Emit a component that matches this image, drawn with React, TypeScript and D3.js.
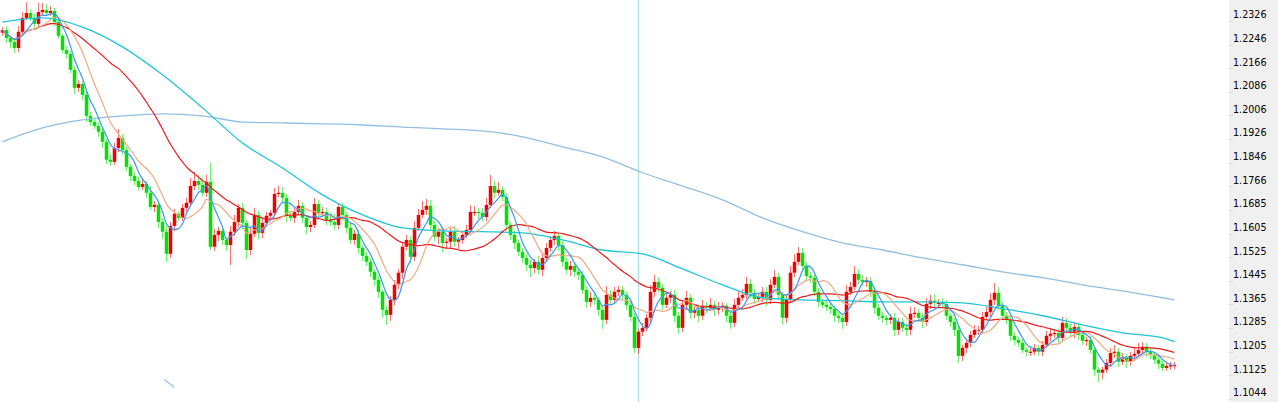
import { useEffect, useRef } from "react";
import * as d3 from "d3";

// daily closes, open of each bar = previous close
const firstOpen = 1.2266;
const closes = [
  1.2275, 1.2248, 1.2235, 1.2214, 1.2269, 1.2316, 1.2333, 1.2316, 1.2296, 1.2336,
  1.2343, 1.2333, 1.234, 1.2302, 1.2255, 1.2207, 1.2194, 1.214, 1.2079, 1.2092,
  1.2055, 1.1984, 1.1963, 1.195, 1.193, 1.1896, 1.1835, 1.1828, 1.1875, 1.1909,
  1.1868, 1.1811, 1.178, 1.1763, 1.1743, 1.1753, 1.1723, 1.1675, 1.1682, 1.1624,
  1.1591, 1.1516, 1.1611, 1.1652, 1.1638, 1.1672, 1.1689, 1.1746, 1.1763, 1.175,
  1.1723, 1.176, 1.154, 1.158, 1.1594, 1.1563, 1.1546, 1.1591, 1.1624, 1.1672,
  1.1621, 1.1529, 1.1584, 1.1648, 1.1587, 1.1621, 1.1645, 1.1655, 1.1719, 1.1723,
  1.1706, 1.1645, 1.1638, 1.1658, 1.1679, 1.1638, 1.1607, 1.1614, 1.1685, 1.1655,
  1.1658, 1.1631, 1.1624, 1.1614, 1.1675, 1.1648, 1.1604, 1.1563, 1.1584, 1.1536,
  1.1509, 1.1489, 1.1455, 1.1428, 1.1387, 1.1326, 1.1309, 1.136, 1.1411, 1.1452,
  1.154, 1.1563, 1.1506, 1.1604, 1.1648, 1.1665, 1.1679, 1.1614, 1.1574, 1.1591,
  1.1553, 1.1557, 1.1591, 1.1557, 1.1563, 1.158, 1.1597, 1.1658, 1.1658, 1.1655,
  1.1641, 1.1682, 1.1746, 1.1723, 1.1733, 1.1709, 1.1614, 1.158, 1.1553, 1.1523,
  1.1502, 1.1479, 1.1468, 1.1489, 1.1462, 1.1502, 1.1536, 1.1563, 1.1577, 1.1546,
  1.1489, 1.1462, 1.1475, 1.1455, 1.1445, 1.1394, 1.1353, 1.1367, 1.136, 1.1326,
  1.1292, 1.1377, 1.136, 1.1387, 1.1394, 1.1377, 1.1343, 1.1302, 1.1197, 1.1252,
  1.1265, 1.1299, 1.1387, 1.1421, 1.1401, 1.1343, 1.1367, 1.1377, 1.1306, 1.1265,
  1.1343, 1.1367, 1.1316, 1.1326, 1.1306, 1.134, 1.1333, 1.1343, 1.1326, 1.1336,
  1.134, 1.1306, 1.1282, 1.1343, 1.1367, 1.1377, 1.1414, 1.1384, 1.1363, 1.137,
  1.1387, 1.136, 1.1411, 1.1438, 1.1377, 1.1299, 1.136, 1.1452, 1.1489, 1.1519,
  1.1475, 1.1441, 1.1435, 1.1387, 1.1353, 1.1343, 1.1336, 1.1329, 1.1306, 1.1299,
  1.1285, 1.1387, 1.1404, 1.1448, 1.1428, 1.1421, 1.1424, 1.1387, 1.1333, 1.1306,
  1.1299, 1.1292, 1.1299, 1.1258, 1.1285, 1.1265, 1.1258, 1.1313, 1.1316, 1.1299,
  1.1285, 1.1346, 1.1357, 1.135, 1.135, 1.1346, 1.1306, 1.1285, 1.1258, 1.117,
  1.1197, 1.1214, 1.1241, 1.1258, 1.1258, 1.1302, 1.1319, 1.136, 1.1384, 1.134,
  1.1306, 1.1292, 1.1238, 1.1224, 1.1214, 1.119, 1.1184, 1.1184, 1.1197, 1.1184,
  1.1207, 1.1238, 1.1245, 1.1248, 1.1231, 1.1282, 1.1265, 1.1252, 1.1268, 1.1241,
  1.1221, 1.1224, 1.119, 1.1123, 1.1113, 1.1123, 1.1146, 1.118, 1.1184, 1.115,
  1.1163, 1.115, 1.117, 1.1177, 1.119, 1.1201, 1.1184, 1.1174, 1.1157, 1.1143,
  1.1129, 1.1136, 1.1138, 1.1139,
];

// shadow lengths in pips above / below the body
const wickUp = [
  10, 14, 8, 12, 18, 20, 37, 15, 12, 30, 25, 22, 18, 10, 12, 8, 14, 10, 12, 15,
  10, 18, 12, 10, 14, 12, 10, 20, 18, 30, 15, 12, 10, 14, 12, 16, 10, 22, 14, 12,
  14, 20, 12, 16, 10, 14, 18, 26, 30, 20, 22, 25, 64, 20, 14, 12, 10, 18, 22, 12,
  15, 10, 22, 25, 12, 18, 14, 10, 20, 24, 18, 12, 15, 16, 20, 14, 10, 12, 22, 14,
  16, 12, 18, 28, 14, 12, 10, 16, 14, 12, 10, 12, 14, 10, 12, 8, 14, 12, 16, 12,
  14, 18, 12, 24, 20, 30, 22, 18, 14, 12, 16, 14, 12, 18, 10, 14, 16, 22, 20, 14,
  16, 24, 37, 18, 25, 14, 12, 10, 12, 10, 14, 12, 16, 10, 20, 14, 18, 12, 16, 10,
  14, 12, 16, 12, 10, 14, 12, 18, 14, 10, 12, 30, 16, 18, 14, 12, 10, 12, 14, 10,
  16, 14, 24, 22, 16, 12, 18, 14, 16, 12, 18, 24, 14, 12, 16, 18, 14, 24, 12, 16,
  14, 10, 12, 20, 18, 20, 22, 16, 12, 14, 18, 16, 20, 22, 14, 10, 16, 24, 28, 20,
  16, 14, 12, 10, 12, 10, 14, 12, 10, 12, 14, 24, 16, 28, 18, 16, 14, 12, 10, 12,
  14, 10, 12, 16, 14, 12, 16, 22, 18, 14, 16, 20, 18, 22, 14, 16, 12, 10, 12, 14,
  10, 12, 14, 16, 12, 18, 16, 24, 34, 20, 14, 12, 10, 12, 10, 12, 10, 14, 12, 10,
  14, 16, 18, 12, 14, 20, 16, 12, 18, 14, 12, 10, 14, 10, 8, 10, 14, 18, 22, 12,
  16, 12, 14, 18, 22, 16, 12, 14, 10, 12, 10, 14, 12, 10,
];
const wickDown = [
  12, 16, 20, 18, 14, 10, 8, 12, 14, 10, 12, 8, 10, 14, 12, 10, 16, 12, 22, 14,
  16, 20, 14, 12, 18, 22, 16, 14, 10, 12, 18, 14, 16, 12, 14, 10, 18, 12, 16, 20,
  24, 27, 14, 18, 12, 10, 14, 10, 12, 16, 12, 14, 10, 16, 22, 18, 20, 68, 14, 16,
  20, 30, 18, 12, 22, 16, 14, 18, 12, 10, 14, 20, 12, 16, 12, 18, 24, 16, 12, 22,
  14, 18, 12, 16, 14, 20, 16, 14, 18, 22, 18, 14, 16, 20, 22, 26, 34, 20, 16, 14,
  20, 12, 22, 14, 12, 10, 16, 20, 14, 24, 30, 16, 20, 18, 24, 14, 12, 10, 14, 20,
  14, 12, 10, 16, 12, 14, 18, 16, 20, 14, 18, 22, 30, 16, 14, 20, 12, 14, 16, 20,
  18, 14, 20, 16, 18, 14, 20, 16, 18, 22, 30, 14, 16, 12, 14, 18, 16, 14, 16, 20,
  14, 12, 16, 18, 14, 16, 12, 18, 22, 20, 14, 16, 20, 18, 22, 14, 16, 12, 20, 18,
  16, 22, 20, 14, 12, 10, 14, 18, 16, 12, 16, 20, 14, 12, 18, 26, 16, 12, 14, 10,
  14, 16, 18, 14, 16, 12, 14, 18, 20, 16, 24, 14, 12, 10, 16, 14, 18, 16, 20, 14,
  16, 18, 14, 20, 16, 14, 22, 18, 16, 14, 20, 14, 16, 18, 12, 14, 16, 18, 20, 24,
  18, 16, 14, 12, 16, 14, 12, 18, 16, 14, 16, 14, 18, 16, 14, 12, 16, 14, 12, 16,
  14, 12, 16, 14, 18, 12, 14, 16, 20, 18, 14, 16, 12, 20, 30, 22, 12, 14, 16, 18,
  12, 20, 14, 16, 12, 14, 18, 16, 14, 16, 12, 10, 14, 12,
];

// long averages at every 10th bar
const slowIdx = [
  0, 10, 20, 30, 40, 50, 60, 70, 80, 90, 100, 110, 120, 130, 140, 150, 160, 170,
  180, 190, 200, 210, 220, 230, 240, 250, 260, 270, 280, 290, 293,
];
const ma60 = [
  1.2302, 1.2316, 1.2285, 1.2218, 1.2123, 1.2011, 1.1892, 1.1807, 1.1716, 1.1648,
  1.1604, 1.1594, 1.1591, 1.1587, 1.1563, 1.1529, 1.1516, 1.1465, 1.1411, 1.1367,
  1.136, 1.1357, 1.1353, 1.1353, 1.135, 1.133, 1.1306, 1.1275, 1.1248, 1.1231,
  1.1218,
];
const ma250 = [
  1.1896, 1.1943, 1.197, 1.1984, 1.1991, 1.1984, 1.1963, 1.196, 1.1957, 1.1953,
  1.1946, 1.194, 1.1933, 1.1913, 1.1879, 1.1845, 1.1791, 1.1746, 1.1699, 1.1638,
  1.1591, 1.1553, 1.1529, 1.1502, 1.1479, 1.1455, 1.1435, 1.1411, 1.139, 1.1367,
  1.136,
];

const priceTicks = [
  "1.2326", "1.2246", "1.2166", "1.2086", "1.2006", "1.1926", "1.1846", "1.1766",
  "1.1685", "1.1605", "1.1525", "1.1445", "1.1365", "1.1285", "1.1205", "1.1125",
  "1.1044",
];

const crosshairBar = 159;
// small stray pen mark near the bottom left
const markBars = [40.5, 43];
const markPrices = [1.1089, 1.1062];

const W = 1278;
const H = 402;
const axisLeft = 1229;
const UP = "#f50000";
const DOWN = "#00e400";

export default function App() {
  const svgRef = useRef<SVGSVGElement>(null);

  useEffect(() => {
    if (!svgRef.current) return;
    const svg = d3.select(svgRef.current);
    svg.selectAll("*").remove();

    const n = closes.length;
    const x = d3.scaleLinear().domain([0, n - 1]).range([2.5, 2.5 + 4 * (n - 1)]);
    const y = d3.scaleLinear().domain([1.1044, 1.2326]).range([393, 15]);

    const bars = closes.map((c, i) => {
      const o = i === 0 ? firstOpen : closes[i - 1];
      return {
        i,
        o,
        c,
        hi: Math.max(o, c) + wickUp[i] / 10000,
        lo: Math.min(o, c) - wickDown[i] / 10000,
        up: c >= o,
      };
    });

    svg.append("rect").attr("width", W).attr("height", H).attr("fill", "#ffffff");

    svg
      .append("line")
      .attr("x1", x(crosshairBar))
      .attr("x2", x(crosshairBar))
      .attr("y1", 0)
      .attr("y2", H)
      .attr("stroke", "#aadfeb")
      .attr("stroke-width", 1.2);

    const g = svg.append("g");
    g.selectAll(".wick")
      .data(bars)
      .join("line")
      .attr("class", "wick")
      .attr("x1", (d) => x(d.i))
      .attr("x2", (d) => x(d.i))
      .attr("y1", (d) => y(d.hi))
      .attr("y2", (d) => y(d.lo))
      .attr("shape-rendering", "crispEdges")
      .attr("stroke", (d) => (d.up ? UP : DOWN))
      .attr("stroke-opacity", 0.55);

    g.selectAll(".body")
      .data(bars)
      .join("rect")
      .attr("class", "body")
      .attr("x", (d) => x(d.i) - 1.75)
      .attr("width", 3.5)
      .attr("y", (d) => y(Math.max(d.o, d.c)))
      .attr("height", (d) => Math.max(1.2, y(Math.min(d.o, d.c)) - y(Math.max(d.o, d.c))))
      .attr("fill", (d) => (d.up ? UP : DOWN));

    const movingAvg = (p: number) =>
      closes.map((_, i) => d3.mean(closes.slice(Math.max(0, i - p + 1), i + 1)) as number);

    const lineFast = d3
      .line<number>()
      .x((_, i) => x(i))
      .y((d) => y(d))
      .curve(d3.curveMonotoneX);

    const lineSlow = d3
      .line<number>()
      .x((_, i) => x(slowIdx[i]))
      .y((d) => y(d))
      .curve(d3.curveMonotoneX);

    const lines = svg.append("g").attr("fill", "none");
    lines.append("path").attr("d", lineSlow(ma250)).attr("stroke", "#93bfe2").attr("stroke-width", 1.3);
    lines.append("path").attr("d", lineSlow(ma60)).attr("stroke", "#1fc6d6").attr("stroke-width", 1.3);
    lines.append("path").attr("d", lineFast(movingAvg(30))).attr("stroke", "#ec1c1c").attr("stroke-width", 1.2);
    lines.append("path").attr("d", lineFast(movingAvg(10))).attr("stroke", "#eeaa82").attr("stroke-width", 1.2);
    lines.append("path").attr("d", lineFast(movingAvg(5))).attr("stroke", "#3c98f0").attr("stroke-width", 1.2);

    svg
      .append("line")
      .attr("x1", x(markBars[0]))
      .attr("x2", x(markBars[1]))
      .attr("y1", y(markPrices[0]))
      .attr("y2", y(markPrices[1]))
      .attr("stroke", "#8bbbec")
      .attr("stroke-width", 2)
      .attr("stroke-dasharray", "1.5 1");

    const axis = svg.append("g");
    axis
      .append("rect")
      .attr("x", axisLeft)
      .attr("y", 0)
      .attr("width", W - axisLeft)
      .attr("height", H)
      .attr("fill", "#f0f0f0");

    axis
      .selectAll(".tk")
      .data(priceTicks)
      .join("line")
      .attr("class", "tk")
      .attr("x1", axisLeft)
      .attr("x2", axisLeft + 4)
      .attr("y1", (d) => Math.round(y(+d)) + 6.5)
      .attr("y2", (d) => Math.round(y(+d)) + 6.5)
      .attr("stroke", "#dcdcdc");

    axis
      .selectAll(".lbl")
      .data(priceTicks)
      .join("text")
      .attr("class", "lbl")
      .attr("x", axisLeft + 4)
      .attr("y", (d) => y(+d))
      .attr("dy", "0.36em")
      .attr("font-family", "'DejaVu Sans', Verdana, sans-serif")
      .attr("font-size", 9.6)
      .attr("fill", "#000000")
      .text((d) => d);
  }, []);

  return (
    <svg
      ref={svgRef}
      width={W}
      height={H}
      style={{ position: "absolute", left: 0, top: 0, display: "block" }}
    ></svg>
  );
}
